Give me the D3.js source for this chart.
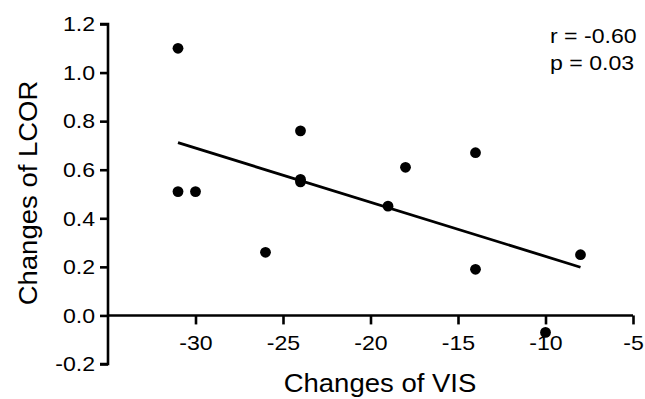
<!DOCTYPE html>
<html><head><meta charset="utf-8">
<script src="https://cdn.jsdelivr.net/npm/d3@7"></script>
<style>body{margin:0;background:#fff;}svg{display:block;}text{font-family:"Liberation Sans",Arial,sans-serif;fill:#000;}</style>
</head><body>
<script>
const visChange = [-31, -31, -30, -26, -24, -24, -24, -19, -18, -14, -14, -10, -8];
const lcorChange = [1.10, 0.51, 0.51, 0.26, 0.76, 0.55, 0.56, 0.45, 0.61, 0.67, 0.19, -0.07, 0.25];
const xTicks = [-30, -25, -20, -15, -10, -5];
const yTicks = [-0.2, 0.0, 0.2, 0.4, 0.6, 0.8, 1.0, 1.2];
const statLines = ["r = -0.60", "p = 0.03"];

const W = 645, H = 399;
const svg = d3.select("body").append("svg").attr("width", W).attr("height", H);
const x = d3.scaleLinear().domain([-35, -5]).range([108, 633]);
const y = d3.scaleLinear().domain([-0.2, 1.2]).range([364, 24]);
const hy = s => s.replace(/\u2212/g, "-");

// least squares fit
const n = visChange.length;
const mx = d3.mean(visChange), my = d3.mean(lcorChange);
let sxy = 0, sxx = 0;
for (let i = 0; i < n; i++) { sxy += (visChange[i]-mx)*(lcorChange[i]-my); sxx += (visChange[i]-mx)**2; }
const slope = sxy / sxx, icpt = my - slope * mx;
const xr = d3.extent(visChange);

// y axis
const yAxis = svg.append("g").attr("transform", `translate(${x(-35)},0)`)
  .call(d3.axisLeft(y).tickValues(yTicks).tickFormat(d => hy(d3.format(".1f")(d))).tickSize(8).tickPadding(5));
// x axis at y=0
const xAxis = svg.append("g").attr("transform", `translate(0,${y(0)})`)
  .call(d3.axisBottom(x).tickValues(xTicks).tickFormat(d => hy(d3.format("d")(d))).tickSize(9).tickPadding(16));
[yAxis, xAxis].forEach(g => {
  g.select(".domain").attr("stroke", "#000").attr("stroke-width", 2.6);
  g.selectAll(".tick line").attr("stroke", "#000").attr("stroke-width", 2.6);
  g.selectAll(".tick text").attr("font-size", 21).attr("font-family", "Liberation Sans, Arial, sans-serif").attr("fill", "#000");
});
yAxis.select(".domain").attr("d", `M-8,${y(1.2)}H0V${y(-0.2)}H-8`);
xAxis.select(".domain").attr("d", `M${x(-35)},0H${x(-5)}`);
xAxis.selectAll(".tick text").attr("dy", "0.45em");

// regression line
svg.append("line")
  .attr("x1", x(xr[0])).attr("y1", y(icpt + slope * xr[0]))
  .attr("x2", x(xr[1])).attr("y2", y(icpt + slope * xr[1]))
  .attr("stroke", "#000").attr("stroke-width", 2.8);

// points
svg.append("g").selectAll("circle").data(visChange).join("circle")
  .attr("cx", d => x(d)).attr("cy", (d, i) => y(lcorChange[i])).attr("r", 5.4).attr("fill", "#000");

// stats text
svg.append("g").selectAll("text").data(statLines).join("text")
  .attr("x", 550).attr("y", (d, i) => 43 + i * 27).attr("font-size", 21).text(d => d);

// axis titles
svg.append("text").attr("x", 380).attr("y", 392).attr("text-anchor", "middle").attr("font-size", 25).text("Changes of VIS");
svg.append("text").attr("transform", "translate(37,193) rotate(-90)").attr("text-anchor", "middle").attr("font-size", 25).text("Changes of LCOR");

// widen glyphs slightly to match the reference's typeface proportions
svg.selectAll("text").each(function() {
  const L = this.getComputedTextLength();
  d3.select(this).attr("textLength", L * 1.1).attr("lengthAdjust", "spacingAndGlyphs");
});
</script>
</body></html>
